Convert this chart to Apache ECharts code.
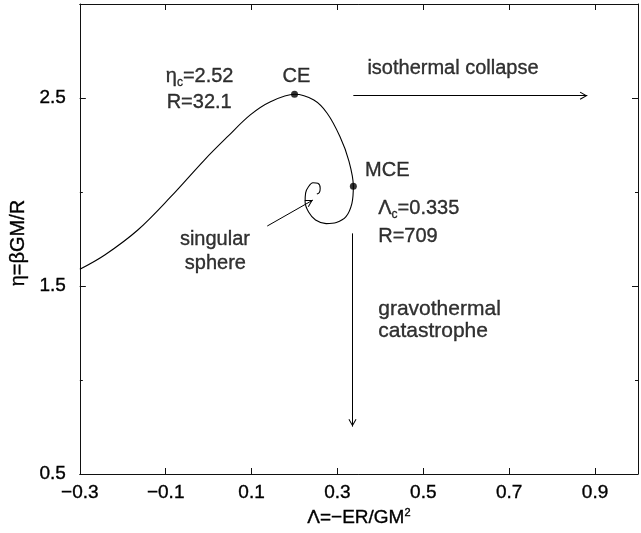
<!DOCTYPE html>
<html><head><meta charset="utf-8">
<script src="https://cdn.jsdelivr.net/npm/echarts@6/dist/echarts.min.js"></script>
<style>html,body{margin:0;padding:0;background:#fff}#c{width:641px;height:533px}</style>
</head><body><div id="c"></div>
<script>
// Caloric curve (Lambda = -ER/GM^2, eta = beta GM/R)
const lambdaVals = [-0.300,-0.242,-0.165,-0.088,-0.010,0.044,0.097,0.144,0.200,0.245,0.276,0.306,0.326,0.337,
  0.3337,0.3199,0.2975,0.2737,0.249,0.2328,0.2247,0.2259,0.2328,0.2427,0.2543,0.2598,0.2578,0.252];
const etaVals    = [1.589,1.665,1.798,1.975,2.170,2.294,2.410,2.480,2.520,2.489,2.419,2.294,2.170,2.030,
  1.940,1.869,1.838,1.832,1.851,1.894,1.947,1.995,2.029,2.049,2.046,2.020,1.997,1.989];
// special points: CE and MCE
const pointLambda = [0.200, 0.337];
const pointEta    = [2.520, 2.030];
// arrows [x0,y0,x1,y1]
const arrowIso  = [0.337, 2.512, 0.882, 2.512];
const arrowGrav = [0.335, 1.780, 0.335, 0.752];
const arrowSing = [0.1365, 1.819, 0.2427, 1.957];
// tick labels
const xTickLabels = [-0.3,-0.1,0.1,0.3,0.5,0.7,0.9];
const yTickLabels = [0.5,1.5,2.5];
// annotation texts
const annText  = ['{a|η}{s|c}{a|=2.52}','R=32.1','CE','isothermal collapse','MCE','{a|Λ}{s|c}{a|=0.335}','R=709','singular','sphere','gravothermal','catastrophe'];
const annX     = [-0.021,-0.022,0.2043,0.3698,0.3644,0.395,0.395,0.0146,0.0157,0.395,0.395];
const annY     = [2.612,2.476,2.615,2.658,2.117,1.910,1.762,1.745,1.622,1.378,1.262];
const annAlign = ['center','center','center','left','left','left','left','center','center','left','left'];
const annSize  = [20,20,20,20,20,20,20,20,20,21,21];

const FONT = 'Liberation Sans, Arial, Helvetica, sans-serif';
const FS = 19;
const AX = '#111';
const chevron = 'path://M0,0 L4,7 L3.13,7.5 L0,2 L-3.13,7.5 L-4,7 Z M0,-7.5';
const DARK = {textBorderColor:'#000', textBorderWidth:0.35};

function near(v, list){ return list.some(t => Math.abs(t - v) < 1e-6); }
function fmt(v){ return v.toFixed(1).replace('-', '\u2212'); }

const curve = lambdaVals.map((x,i)=>[x, etaVals[i]]);
const pts = pointLambda.map((x,i)=>[x, pointEta[i]]);
function seg(a){ return [{coord:[a[0],a[1]]},{coord:[a[2],a[3]]}]; }

const annData = annText.map((t,i)=>({
  value:[annX[i], annY[i]],
  label:Object.assign({
    show:true,
    formatter:t,
    position: annAlign[i]==='left' ? 'right' : 'inside',
    distance:0,
    align: annAlign[i],
    verticalAlign:'middle',
    color:'#000',
    fontSize:annSize[i],
    fontFamily:FONT,
    rich:{
      a:Object.assign({fontSize:annSize[i], fontFamily:FONT, color:'#000'}, DARK),
      s:Object.assign({fontSize:12, fontFamily:FONT, color:'#000', padding:[11,0,0,0]}, DARK)
    }
  }, DARK)
}));

function xAx(pos, labels){
  return {
    type:'value', position:pos, min:-0.3, max:1.0, interval:0.2,
    axisLine:{show:true, onZero:false, lineStyle:{color:AX, width:1}},
    axisTick:{show:true, inside:true, length:6, lineStyle:{color:AX, width:1}},
    axisLabel:Object.assign({show:labels, margin:9, color:'#000', fontSize:FS, fontFamily:FONT,
      formatter:v => near(v, xTickLabels) ? fmt(v) : ''}, DARK),
    splitLine:{show:false},
    name: labels ? '{a|Λ=−ER/GM}{p|2}' : '',
    nameLocation:'middle', nameGap:33,
    nameTextStyle:{color:'#000', fontSize:FS, fontFamily:FONT,
      rich:{a:Object.assign({fontSize:FS, fontFamily:FONT, color:'#000'}, DARK), p:Object.assign({fontSize:11, fontFamily:FONT, color:'#000', padding:[0,0,11,0]}, DARK)}}
  };
}
function yAx(pos, interval, tickLen, labels, line){
  return {
    type:'value', position:pos, min:0.5, max:3.0, interval:interval,
    axisLine:{show:line, onZero:false, lineStyle:{color:AX, width:1}},
    axisTick:{show:true, inside:true, length:tickLen, lineStyle:{color:AX, width:1}},
    axisLabel:Object.assign({show:labels, margin:14, color:'#000', fontSize:FS, fontFamily:FONT,
      formatter:v => near(v, yTickLabels) ? v.toFixed(1) : ''}, DARK),
    splitLine:{show:false},
    name: labels ? 'η=βGM/R' : '',
    nameLocation:'middle', nameGap:46,
    nameTextStyle:Object.assign({color:'#000', fontSize:20, fontFamily:FONT, padding:[0,0,0,-8]}, DARK)
  };
}

const chart = echarts.init(document.getElementById('c'), null, {renderer:'canvas'});
chart.setOption({
  animation:false,
  backgroundColor:'#fff',
  grid:{left:78, right:1, top:4, bottom:59, containLabel:false},
  xAxis:[xAx('bottom', true), xAx('top', false)],
  yAxis:[yAx('left',1,6,true,true), yAx('left',0.5,3,false,false), yAx('right',1,6,false,true), yAx('right',0.5,3,false,false)],
  series:[
    {
      type:'line', data:curve, xAxisIndex:0, yAxisIndex:0,
      showSymbol:false, smooth:0.35, silent:true,
      lineStyle:{color:'#000', width:1.1},
      markLine:{
        silent:true, animation:false,
        symbol:['none', chevron], symbolSize:[8,15],
        label:{show:false},
        lineStyle:{color:'#000', width:1, type:'solid'},
        emphasis:{disabled:true},
        data:[seg(arrowIso), seg(arrowGrav), seg(arrowSing)]
      }
    },
    {
      type:'scatter', data:pts, xAxisIndex:0, yAxisIndex:0,
      symbolSize:7, itemStyle:{color:'#000'}, silent:true
    },
    {
      type:'scatter', data:annData, xAxisIndex:0, yAxisIndex:0,
      symbolSize:0, itemStyle:{color:'transparent'}, silent:true
    }
  ]
});
</script>
</body></html>
